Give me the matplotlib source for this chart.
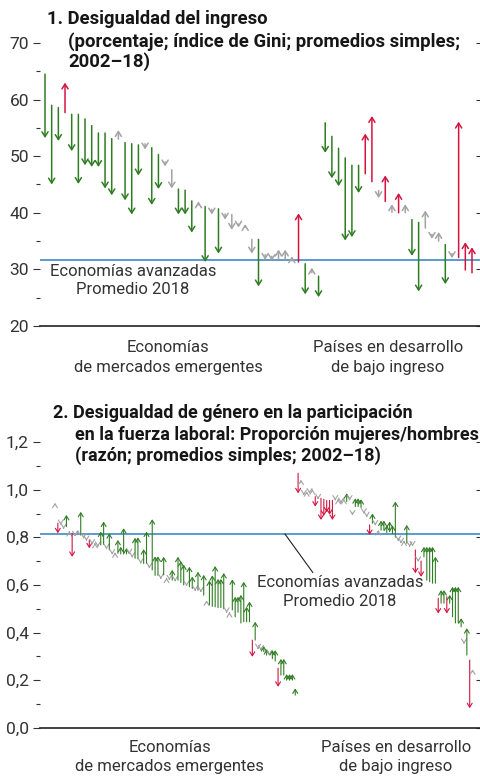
import matplotlib
matplotlib.use("Agg")
import matplotlib.pyplot as plt
from matplotlib.ticker import MultipleLocator, FuncFormatter

plt.rcParams['font.family'] = ['Roboto', 'DejaVu Sans']

# Panel 1: Gini index, 2002 -> 2018 (EM first, then LIDC)
gini_2002 = [64.5, 59.0, 58.6, 57.7, 57.4, 57.4, 56.6, 55.4, 54.1, 54.1, 53.1, 53.0, 52.4, 52.2,
             52.0, 52.2, 51.5, 50.3, 49.0, 47.6, 44.2, 44.0, 42.1, 41.4, 41.1, 40.6, 40.7, 39.8,
             39.7, 38.0, 37.4, 35.3, 35.3, 32.6, 32.3, 31.8, 31.8, 31.5, 31.3, 31.0, 29.4, 28.8,
             55.9, 53.5, 51.4, 49.7, 48.4, 48.4, 46.9, 45.5, 43.9, 42.0, 40.1, 40.0, 40.0, 38.8,
             38.3, 37.3, 36.2, 35.0, 34.4, 32.8, 32.1, 29.9, 29.4]
gini_2018 = [53.2, 45.0, 52.7, 63.0, 50.9, 45.1, 48.4, 48.1, 48.1, 44.3, 43.1, 54.6, 42.2, 39.7,
             46.6, 51.2, 41.4, 44.2, 48.2, 44.3, 39.7, 39.7, 36.5, 42.0, 31.3, 39.7, 32.8, 38.8,
             37.0, 37.4, 38.0, 32.8, 27.0, 31.7, 31.5, 33.5, 33.5, 32.3, 39.9, 25.6, 30.3, 25.1,
             50.6, 46.1, 44.7, 35.1, 35.7, 43.5, 54.0, 57.1, 42.6, 46.6, 41.5, 43.5, 41.5, 32.4,
             26.1, 40.4, 35.4, 36.6, 27.4, 32.0, 56.1, 34.8, 33.9]
gini_ae_avg = 31.7

# Panel 2: female/male labour force participation ratio, 2002 -> 2018
lfp_2002 = [0.935, 0.859, 0.860, 0.840, 0.845, 0.820, 0.817, 0.810, 0.822, 0.810, 0.800, 0.790,
            0.789, 0.775, 0.770, 0.765, 0.768, 0.770, 0.755, 0.747, 0.735, 0.730, 0.733, 0.730,
            0.730, 0.730, 0.735, 0.720, 0.712, 0.710, 0.695, 0.690, 0.690, 0.675, 0.663, 0.640,
            0.640, 0.630, 0.642, 0.625, 0.625, 0.620, 0.620, 0.620, 0.610, 0.600, 0.600, 0.592,
            0.585, 0.580, 0.578, 0.575, 0.557, 0.525, 0.516, 0.510, 0.508, 0.505, 0.505, 0.500,
            0.487, 0.480, 0.495, 0.466, 0.485, 0.440, 0.445, 0.445, 0.445, 0.368, 0.368, 0.335,
            0.330, 0.320, 0.305, 0.310, 0.290, 0.280, 0.250, 0.221, 0.221, 0.200, 0.200, 0.200,
            0.137,
            1.069, 1.030, 0.985, 0.985, 0.990, 0.995, 0.971, 0.965, 0.964, 0.960, 0.955, 0.955,
            0.955, 0.960, 0.955, 0.950, 0.955, 0.950, 0.960, 0.902, 0.929, 0.929, 0.925, 0.905,
            0.890, 0.852, 0.859, 0.855, 0.822, 0.830, 0.830, 0.820, 0.824, 0.815, 0.800, 0.790,
            0.780, 0.780, 0.775, 0.765, 0.770, 0.747, 0.705, 0.700, 0.718, 0.620, 0.613, 0.607,
            0.607, 0.544, 0.523, 0.523, 0.550, 0.523, 0.466, 0.440, 0.440, 0.424, 0.360, 0.305,
            0.284, 0.235]
lfp_2018 = [0.945, 0.817, 0.852, 0.835, 0.894, 0.826, 0.718, 0.805, 0.830, 0.907, 0.795, 0.785,
            0.754, 0.770, 0.776, 0.760, 0.824, 0.866, 0.750, 0.817, 0.728, 0.736, 0.789, 0.760,
            0.838, 0.755, 0.730, 0.715, 0.798, 0.800, 0.690, 0.750, 0.824, 0.670, 0.876, 0.720,
            0.720, 0.625, 0.718, 0.630, 0.620, 0.663, 0.615, 0.718, 0.700, 0.685, 0.595, 0.676,
            0.635, 0.575, 0.655, 0.570, 0.642, 0.535, 0.618, 0.640, 0.679, 0.625, 0.625, 0.650,
            0.483, 0.485, 0.623, 0.550, 0.550, 0.558, 0.613, 0.508, 0.530, 0.298, 0.445, 0.330,
            0.325, 0.343, 0.330, 0.305, 0.326, 0.326, 0.172, 0.289, 0.289, 0.225, 0.225, 0.225,
            0.165,
            0.985, 1.042, 0.977, 0.993, 0.984, 1.002, 0.929, 0.960, 0.873, 0.890, 0.905, 0.895,
            0.873, 0.955, 0.961, 0.944, 0.961, 0.985, 0.955, 0.892, 0.964, 0.964, 0.960, 0.900,
            0.885, 0.810, 0.900, 0.850, 0.830, 0.870, 0.870, 0.850, 0.866, 0.850, 0.950, 0.785,
            0.775, 0.786, 0.852, 0.760, 0.762, 0.649, 0.697, 0.634, 0.760, 0.760, 0.760, 0.760,
            0.718, 0.480, 0.578, 0.578, 0.480, 0.558, 0.592, 0.592, 0.592, 0.460, 0.352, 0.418,
            0.082, 0.245]
lfp_ae_avg = 0.814

GREEN = '#2f7d22'
RED = '#d41440'
GRAY = '#a3a3a3'
BLUE = '#2f7fc1'
TXT = '#333333'
TITLE = '#161616'


def draw_arrows(ax, start, end, thresh, up_is_good, lw, scale):
    for i, (a, b) in enumerate(zip(start, end)):
        d = b - a
        if abs(d) < thresh:
            c = GRAY
        elif (d > 0) == up_is_good:
            c = GREEN
        else:
            c = RED
        ax.annotate('', xy=(i, b), xytext=(i, a),
                    arrowprops=dict(arrowstyle='->, head_length=0.35, head_width=0.22',
                                    color=c, lw=lw, shrinkA=0, shrinkB=0,
                                    mutation_scale=scale))


def style_axis(ax, major, minor, fmt):
    for s in ['top', 'left', 'right']:
        ax.spines[s].set_visible(False)
    ax.spines['bottom'].set_linewidth(1.2)
    ax.spines['bottom'].set_color('#222222')
    ax.set_xticks([])
    ax.yaxis.set_major_locator(MultipleLocator(major))
    ax.yaxis.set_minor_locator(MultipleLocator(minor))
    ax.yaxis.set_major_formatter(FuncFormatter(fmt))
    ax.tick_params(axis='y', which='major', direction='out', length=5, width=0.8,
                   colors=TXT, labelsize=12.5, pad=3)
    ax.tick_params(axis='y', which='minor', direction='out', length=3, width=0.8,
                   colors=TXT, left=True, right=False)
    ax.tick_params(axis='y', which='major', right=True, labelright=False)
    for t in ax.yaxis.get_major_ticks():
        t.tick2line.set_marker(matplotlib.lines.TICKLEFT)
        t.tick2line.set_markersize(3)


fig = plt.figure(figsize=(4.8, 7.81), dpi=100)

# ---- panel 1
ax1 = fig.add_axes([40 / 480, 1 - 326 / 781, 440 / 480, 283 / 781])
ax1.set_xlim(-0.75, 65.2)
ax1.set_ylim(20, 70)
style_axis(ax1, 10, 5, lambda v, p: '%d' % v)
ax1.axhline(gini_ae_avg, color=BLUE, lw=1.1, zorder=1)
draw_arrows(ax1, gini_2002, gini_2018, 3.4, False, 1.1, 10)
ax1.text(13.2, 31.0, 'Economías avanzadas\nPromedio 2018', ha='center', va='top',
         fontsize=12, color=TXT, linespacing=1.3)
ax1.text(0.291, -0.05, 'Economías\nde mercados emergentes', transform=ax1.transAxes,
         ha='center', va='top', fontsize=12, color=TXT, linespacing=1.4)
ax1.text(0.791, -0.05, 'Países en desarrollo\nde bajo ingreso', transform=ax1.transAxes,
         ha='center', va='top', fontsize=12, color=TXT, linespacing=1.4)

fig.text(47 / 480, 1 - 10 / 781, '1. Desigualdad del ingreso', ha='left', va='top',
         fontsize=13.3, fontweight='bold', color=TITLE)
fig.text(68 / 480, 1 - 32 / 781, '(porcentaje; índice de Gini; promedios simples;\n2002–18)',
         ha='left', va='top', fontsize=13.3, fontweight='bold', color=TITLE, linespacing=1.12)

# ---- panel 2
ax2 = fig.add_axes([40 / 480, 1 - 727.7 / 781, 440 / 480, 285.6 / 781])
ax2.set_xlim(-5.24, 148.6)
ax2.set_ylim(0, 1.2)
style_axis(ax2, 0.2, 0.1, lambda v, p: ('%.1f' % v).replace('.', ','))
ax2.axhline(lfp_ae_avg, color=BLUE, lw=1.1, zorder=1)
draw_arrows(ax2, lfp_2002, lfp_2018, 0.015, True, 0.8, 8)
ax2.annotate('Economías avanzadas\nPromedio 2018', xy=(80.4, lfp_ae_avg), xytext=(99.6, 0.64),
             ha='center', va='top', fontsize=12, color=TXT, linespacing=1.3,
             arrowprops=dict(arrowstyle='-', color='#222222', lw=0.8,
                             shrinkA=0, shrinkB=0, relpos=(0.35, 1.0)))
ax2.text(0.295, -0.042, 'Economías\nde mercados emergentes', transform=ax2.transAxes,
         ha='center', va='top', fontsize=12, color=TXT, linespacing=1.4)
ax2.text(0.809, -0.042, 'Países en desarrollo\nde bajo ingreso', transform=ax2.transAxes,
         ha='center', va='top', fontsize=12, color=TXT, linespacing=1.4)

fig.text(53 / 480, 1 - 404 / 781, '2. Desigualdad de género en la participación',
         ha='left', va='top', fontsize=13, fontweight='bold', color=TITLE)
fig.text(75 / 480, 1 - 426 / 781,
         'en la fuerza laboral: Proporción mujeres/hombres\n(razón; promedios simples; 2002–18)',
         ha='left', va='top', fontsize=13, fontweight='bold', color=TITLE, linespacing=1.12)

fig.savefig('out.png', dpi=100)
